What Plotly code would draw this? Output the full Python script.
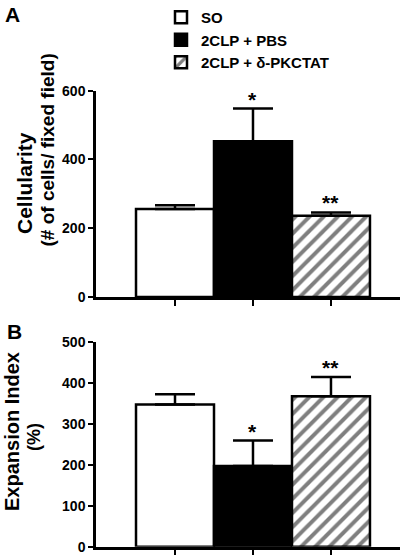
import plotly.graph_objects as go

# ---------------- data ----------------
groups = ["SO", "2CLP + PBS", "2CLP + δ-PKCTAT"]
positions = [0, 1, 2]
cell_mean = [256, 453, 236]
cell_sem = [11, 95, 10]
cell_sig = ["", "*", "**"]
exp_mean = [347, 197, 367]
exp_sem = [25, 62, 47]
exp_sig = ["", "*", "**"]
cell_ticks = [0, 200, 400, 600]
exp_ticks = [0, 100, 200, 300, 400, 500]

# ---------------- layout helpers ----------------
W, H = 410, 558
FONT = "Liberation Sans"


def px(x):
    return x / W


def py(y):
    return 1 - y / H


styles = [
    dict(color="white"),
    dict(color="black"),
    dict(color="white", pattern=dict(shape="/", fgcolor="black", bgcolor="white",
                                     size=10, solidity=0.4)),
]

fig = go.Figure()

for i, g in enumerate(groups):
    common = dict(width=1, name=g, legendgroup=g)
    fig.add_trace(go.Bar(
        x=[positions[i]], y=[cell_mean[i]],
        marker=dict(**styles[i], line=dict(color="black", width=2.5)),
        error_y=dict(type="data", symmetric=False, array=[cell_sem[i]], arrayminus=[0],
                     color="black", thickness=2.5, width=20),
        xaxis="x", yaxis="y", showlegend=True, **common))
    fig.add_trace(go.Bar(
        x=[positions[i]], y=[exp_mean[i]],
        marker=dict(**styles[i], line=dict(color="black", width=2.5)),
        error_y=dict(type="data", symmetric=False, array=[exp_sem[i]], arrayminus=[0],
                     color="black", thickness=2.5, width=20),
        xaxis="x2", yaxis="y2", showlegend=False, **common))

annotations = []
for i in range(len(groups)):
    if cell_sig[i]:
        annotations.append(dict(x=positions[i], y=cell_mean[i] + cell_sem[i], xref="x", yref="y",
                                text=cell_sig[i], showarrow=False, yanchor="bottom", yshift=-4,
                                font=dict(size=21, family=FONT, color="black", weight="bold")))
    if exp_sig[i]:
        annotations.append(dict(x=positions[i], y=exp_mean[i] + exp_sem[i], xref="x2", yref="y2",
                                text=exp_sig[i], showarrow=False, yanchor="bottom", yshift=-4,
                                font=dict(size=21, family=FONT, color="black", weight="bold")))


def label(text, x, y, size, angle=0):
    return dict(text=text, x=px(x), y=py(y), xref="paper", yref="paper", showarrow=False,
                xanchor="center", yanchor="middle", textangle=angle,
                font=dict(size=size, family=FONT, color="black", weight="bold"))


annotations += [
    label("A", 12, 15, 21),
    label("B", 14, 331, 21),
    label("Cellularity", 25, 183, 21, -90),
    label("(# of cells/ fixed field)", 46.5, 150, 19, -90),
    label("Expansion Index", 12, 432, 20, -90),
    label("(%)", 34, 437, 18, -90),
]

xcommon = dict(domain=[px(96), px(400)], range=[-1.013, 2.885], showline=True, linecolor="black",
               linewidth=2.5, ticks="outside", tickvals=positions, showticklabels=False,
               ticklen=6, tickwidth=2, tickcolor="black", showgrid=False, zeroline=False,
               automargin=False)
ycommon = dict(showline=True, linecolor="black", linewidth=2.5, ticks="outside", ticklen=5,
               tickwidth=2, tickcolor="black", showgrid=False, zeroline=False, automargin=False,
               tickfont=dict(size=14, family=FONT, color="black", weight="bold"))

fig.update_layout(
    width=W, height=H,
    margin=dict(l=0, r=0, t=0, b=0, autoexpand=False),
    paper_bgcolor="white", plot_bgcolor="white",
    barmode="overlay",
    font=dict(family=FONT, color="black"),
    xaxis=dict(anchor="y", **xcommon),
    yaxis=dict(anchor="x", domain=[py(297), py(90.7)], range=[0, 600], tickvals=cell_ticks, **ycommon),
    xaxis2=dict(anchor="y2", **xcommon),
    yaxis2=dict(anchor="x2", domain=[py(546.7), py(341.7)], range=[0, 500], tickvals=exp_ticks, **ycommon),
    legend=dict(x=px(161), y=py(1), xanchor="left", yanchor="top", bgcolor="rgba(0,0,0,0)",
                font=dict(size=15, family=FONT, color="black", weight="bold"),
                tracegroupgap=2, itemwidth=30, traceorder="normal"),
    annotations=annotations,
    showlegend=True,
)

fig.write_html("out.html", config={"displayModeBar": False},
               post_script="document.body.style.margin='0';")
